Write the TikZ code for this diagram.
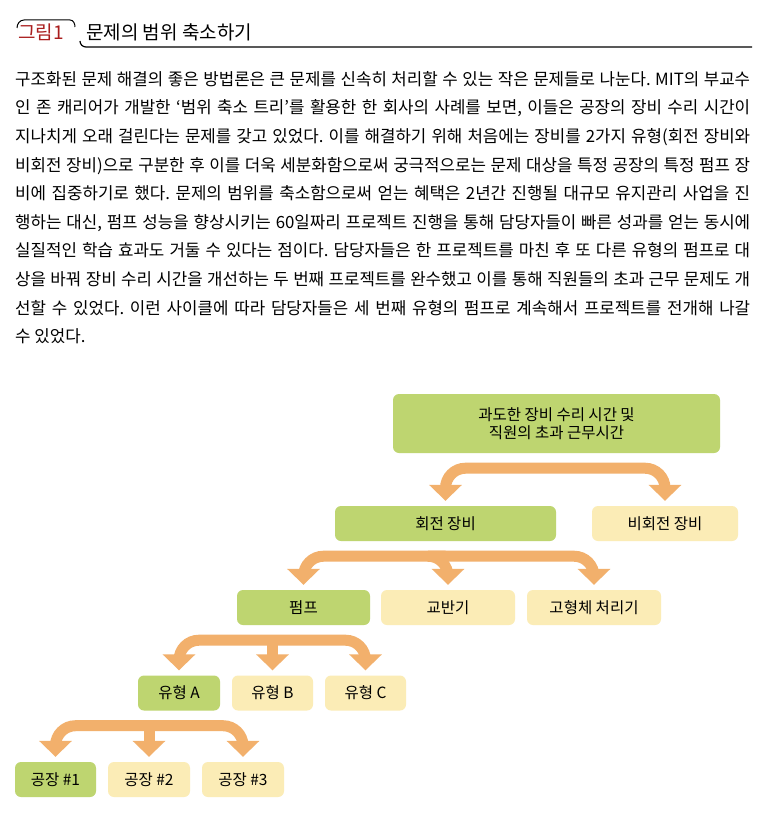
\documentclass[tikz,border=0pt]{standalone}
\usepackage{fontspec}
\setmainfont{Noto Sans CJK KR}
\usetikzlibrary{arrows.meta,calc}
\definecolor{gbox}{RGB}{190,213,112}
\definecolor{ybox}{RGB}{251,236,182}
\definecolor{arr}{RGB}{242,176,108}
\definecolor{fred}{RGB}{170,30,30}
\tikzset{
 x=1pt,y=-1pt,
 bx/.style={rounded corners=6pt,minimum height=35pt,inner sep=0pt,font=\fontsize{15.5}{18}\selectfont},
 gb/.style={bx,fill=gbox},
 yb/.style={bx,fill=ybox},
 band/.style={draw=arr,line width=11pt,rounded corners=20pt,shorten >=5pt,
   -{Triangle[width=32pt,length=16pt]}},
 band2/.style={draw=arr,line width=11pt,rounded corners=20pt,shorten <=5pt,shorten >=5pt,
   {Triangle[width=32pt,length=16pt]}-{Triangle[width=32pt,length=16pt]}},
}
\begin{document}
\frenchspacing
\begin{tikzpicture}
\useasboundingbox[fill=white] (0,0) rectangle (770,832);
% header
\node[anchor=west,text=fred,font=\fontsize{19}{22}\selectfont,inner sep=0] (fig) at (18,32) {그림1};
\draw[line width=1pt] (17,28) to[out=90,in=180] (24,20) -- (70,20) to[out=0,in=90] (75,27);
\node[anchor=west,font=\fontsize{19}{22}\selectfont,inner sep=0] (title) at (86,32) {문제의 범위 축소하기};
\draw[line width=1.2pt] (80,41) to[out=-90,in=180] (86,47) -- (752,47);
% paragraph
\node[anchor=north west,inner sep=0,text width=735pt,align=justify,
 font=\fontsize{16.8}{28.6}\selectfont] (para) at (15,71) {%
구조화된 문제 해결의 좋은 방법론은 큰 문제를 신속히 처리할 수 있는 작은 문제들로 나눈다. MIT의 부교수\linebreak
인 존 캐리어가 개발한 ‘범위 축소 트리’를 활용한 한 회사의 사례를 보면, 이들은 공장의 장비 수리 시간이\linebreak
지나치게 오래 걸린다는 문제를 갖고 있었다. 이를 해결하기 위해 처음에는 장비를 2가지 유형(회전 장비와\linebreak
비회전 장비)으로 구분한 후 이를 더욱 세분화함으로써 궁극적으로는 문제 대상을 특정 공장의 특정 펌프 장\linebreak
비에 집중하기로 했다. 문제의 범위를 축소함으로써 얻는 혜택은 2년간 진행될 대규모 유지관리 사업을 진\linebreak
행하는 대신, 펌프 성능을 향상시키는 60일짜리 프로젝트 진행을 통해 담당자들이 빠른 성과를 얻는 동시에\linebreak
실질적인 학습 효과도 거둘 수 있다는 점이다. 담당자들은 한 프로젝트를 마친 후 또 다른 유형의 펌프로 대\linebreak
상을 바꿔 장비 수리 시간을 개선하는 두 번째 프로젝트를 완수했고 이를 통해 직원들의 초과 근무 문제도 개\linebreak
선할 수 있었다. 이런 사이클에 따라 담당자들은 세 번째 유형의 펌프로 계속해서 프로젝트를 전개해 나갈\linebreak
수 있었다.};
% boxes
\node[gb,minimum width=327pt,minimum height=59pt,align=center] (top) at (556.5,423.5) {과도한 장비 수리 시간 및\\직원의 초과 근무시간};
\node[gb,minimum width=221pt] (rot) at (445.5,523.5) {회전 장비};
\node[yb,minimum width=146pt] (nrot) at (665,523.5) {비회전 장비};
\node[gb,minimum width=133pt] (pump) at (303.5,607.5) {펌프};
\node[yb,minimum width=134pt] (mix) at (448,607.5) {교반기};
\node[yb,minimum width=134pt] (solid) at (594,607.5) {고형체 처리기};
\node[gb,minimum width=82pt] (ta) at (179,693) {유형 A};
\node[yb,minimum width=81pt] (tb) at (272.5,693) {유형 B};
\node[yb,minimum width=81pt] (tc) at (365.5,693) {유형 C};
\node[gb,minimum width=81pt] (p1) at (55.5,779.5) {공장 \#1};
\node[yb,minimum width=82pt] (p2) at (149,779.5) {공장 \#2};
\node[yb,minimum width=82pt] (p3) at (243,779.5) {공장 \#3};
% arrows
\draw[band2] (rot.north) |- ($(top.south)+(0,15)$) -| (nrot.north);
\draw[band2] (pump.north) |- ($(rot.south)+(0,15)$) -| (solid.north);
\draw[band] ($(rot.south)+(0,15)$) -| (mix.north);
\draw[band2] (ta.north) |- ($(pump.south)+(0,15)$) -| (tc.north);
\draw[band] (tb.north |- {$(pump.south)+(0,15)$}) -- (tb.north);
\draw[band2] (p1.north) |- ($(ta.south)+(0,15)$) -| (p3.north);
\draw[band] (p2.north |- {$(ta.south)+(0,15)$}) -- (p2.north);
\end{tikzpicture}
\end{document}
